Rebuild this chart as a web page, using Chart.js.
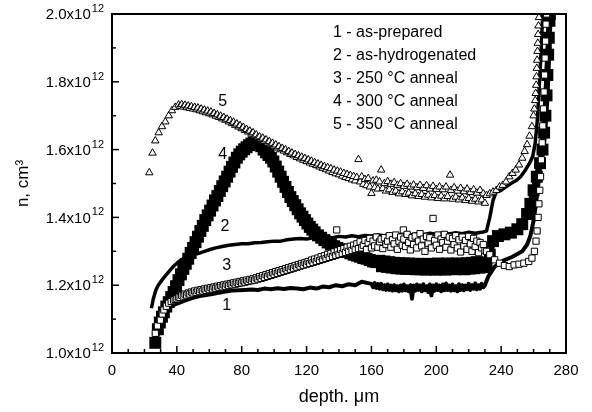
<!DOCTYPE html>
<html>
<head>
<meta charset="utf-8">
<script src="https://cdn.jsdelivr.net/npm/chart.js@4.4.0/dist/chart.umd.min.js"></script>
<style>
  html, body { margin: 0; padding: 0; background: #fff; }
  #wrap { width: 592px; height: 412px; position: relative; }
</style>
</head>
<body>
<div id="wrap"><canvas id="chart"></canvas></div>
<script>
// depth (um) vs n, n in units of 1e12 cm^-3
const asPrepared = [
  [27,1.06],[28.5,1.09],[30,1.105],[32,1.118],[34,1.128],[36,1.136],[38,1.142],[41,1.147],[44,1.153],
  [47,1.158],[50,1.163],[54,1.168],[58,1.171],[62,1.174],[66,1.178],[70,1.181],[74,1.184],[78,1.185],
  [82,1.186],[86,1.187],[90,1.186],[94,1.19],[98,1.188],[102,1.191],[106,1.189],[110,1.192],[114,1.19],
  [118,1.188],[122,1.193],[126,1.19],[130,1.196],[134,1.194],[138,1.2],[142,1.197],[146,1.203],[150,1.2],
  [154,1.21],[158,1.206],
  [160,1.204],[161,1.194],[162,1.206],[163,1.192],[164,1.203],[165,1.19],[166,1.204],[167,1.188],[168,1.2],
  [169,1.186],[170,1.202],[171,1.186],[172,1.199],[173,1.184],[174,1.2],[175,1.185],[176,1.197],[177,1.182],
  [178,1.199],[179,1.184],[180,1.202],[181,1.185],[182,1.197],[183,1.182],[184,1.2],[185,1.16],[186,1.199],
  [187,1.184],[188,1.202],[189,1.186],[190,1.199],[191,1.182],[192,1.203],[193,1.185],[194,1.197],[195,1.18],
  [196,1.202],[197,1.17],[198,1.199],[199,1.184],[200,1.203],[201,1.186],[202,1.199],[203,1.182],[204,1.202],
  [205,1.185],[206,1.205],[207,1.186],[208,1.199],[209,1.184],[210,1.202],[211,1.185],[212,1.197],[213,1.182],
  [214,1.203],[215,1.186],[216,1.2],[217,1.185],[218,1.199],[219,1.188],[220,1.204],[221,1.186],[222,1.2],
  [223,1.19],[224,1.205],[225,1.188],[226,1.2],[227,1.19],[228,1.204],[229,1.194],[230,1.2],
  [232,1.225],[236,1.255],[241,1.272],[247,1.284],[253,1.3],[256,1.32],[258,1.345],[260,1.39],[261.5,1.44],
  [263,1.5],[264.5,1.57],[266,1.66],[267.3,1.76],[268.3,1.86],[269.2,1.95],[269.6,2.0]
];
const asHydrogenated = [
  [24.3,1.132],[25.5,1.16],[27,1.185],[28.5,1.2],[30.8,1.215],[33,1.228],[35.5,1.242],[38,1.256],[41,1.269],
  [44,1.278],[47,1.286],[50,1.29],[53.5,1.294],[57,1.3],[61,1.306],[64,1.31],[68,1.314],[72,1.318],[76,1.32],
  [80,1.322],[84,1.322],[88,1.325],[92,1.326],[96,1.328],[100,1.33],[104,1.33],[108,1.334],[112,1.336],
  [116,1.338],[120,1.336],[124,1.34],[128,1.338],[132,1.342],[136,1.34],[140,1.344],[144,1.342],[148,1.346],
  [152,1.343],[156,1.347],[160,1.345],[164,1.348],[168,1.346],[172,1.35],[176,1.347],[180,1.351],[184,1.348],
  [188,1.352],[192,1.349],[196,1.353],[200,1.35],[204,1.354],[208,1.351],[212,1.355],[216,1.352],[220,1.356],
  [224,1.353],[228,1.356],[231,1.36],[233,1.4],[235,1.45],[237,1.475],[240,1.48],[243,1.49],[246,1.5],
  [249,1.508],[252,1.52],[255,1.54],[257.5,1.56],[259.5,1.58],[261,1.62],[262.2,1.68],[263.2,1.76],
  [264.2,1.85],[265,1.93],[265.6,2.0]
];
const anneal250 = [
  [26.7,1.058],[28,1.08],[29.8,1.097],[31,1.115],[32,1.127],[33.5,1.138],[35,1.147],[36.5,1.152],[38,1.156],
  [39,1.158],[40,1.16],[41,1.165],[42,1.164],[43,1.17],[44,1.168],[45,1.174],[46,1.171],[47,1.177],[48,1.174],
  [49,1.18],[50,1.177],[51,1.183],[52,1.179],[53,1.185],[54,1.181],[55,1.187],[56,1.183],[57,1.189],[58,1.185],
  [59,1.191],[60,1.187],[61,1.193],[62,1.189],[63,1.195],[64,1.191],[65,1.197],[66,1.193],[67,1.199],[68,1.195],
  [69,1.201],[70,1.197],[71,1.203],[72,1.199],[73,1.205],[74,1.201],[75,1.207],[76,1.203],[77,1.209],[78,1.205],
  [79,1.211],[80,1.207],[81,1.213],[82,1.209],[83,1.215],[84,1.211],[85,1.217],[86,1.213],[87,1.219],[88,1.215],
  [89,1.222],[90,1.218],[91,1.225],[92,1.22],[93,1.228],[94,1.223],[95,1.231],[96,1.226],[97,1.234],[98,1.229],
  [99,1.237],[100,1.232],[101,1.24],[102,1.235],[103,1.243],[104,1.238],[105,1.246],[106,1.241],[107,1.249],
  [108,1.244],[109,1.252],[110,1.247],[111,1.255],[112,1.25],[113,1.258],[114,1.253],[115,1.261],[116,1.256],
  [117,1.264],[118,1.259],[119,1.267],[120,1.262],[121,1.27],[122,1.264],[123,1.274],[124,1.267],[125,1.277],
  [126,1.27],[127,1.28],[128,1.273],[129,1.284],[130,1.276],[131,1.287],[132,1.279],[133,1.291],[134,1.282],
  [135,1.294],[136,1.285],[137,1.298],[138,1.288],[138.6,1.363],[139,1.301],[140,1.291],[141,1.305],[142,1.294],
  [143,1.308],[144,1.297],[145,1.312],[146,1.3],[147,1.315],[148,1.303],[149,1.318],[150,1.306],
  [151,1.322],[152,1.308],[153,1.328],[154,1.31],[155,1.318],[156,1.332],[157,1.305],[158,1.325],[159,1.338],
  [160,1.31],[161,1.33],[162,1.316],[163,1.342],[164,1.312],[165,1.328],[166,1.336],[167,1.308],[168,1.34],
  [169,1.32],[170,1.33],[171,1.346],[172,1.312],[173,1.334],[174,1.322],[175,1.348],[176,1.306],[177,1.33],
  [178,1.342],[179,1.318],[179.7,1.363],[180,1.336],[181,1.314],[182,1.35],[183,1.326],[184,1.304],[185,1.34],
  [186,1.32],[187,1.345],[188,1.31],[189,1.33],[190,1.352],[191,1.316],[192,1.336],[193,1.3],[194,1.344],
  [195,1.324],[196,1.34],[197,1.31],[198,1.397],[199,1.332],[200,1.318],[201,1.348],[202,1.306],[203,1.336],
  [204,1.326],[205,1.35],[206,1.312],[207,1.33],[208,1.342],[209,1.304],[210,1.338],[211,1.32],[212,1.346],
  [213,1.31],[214,1.334],[215,1.298],[216,1.342],[217,1.316],[218,1.332],[219,1.306],[220,1.344],[221,1.322],
  [222,1.3],[223,1.338],[224,1.314],[225,1.33],[226,1.296],[227,1.326],[228,1.31],[229,1.32],[230,1.302],
  [231,1.3],[233,1.29],[236,1.275],[239,1.265],[242,1.258],[245,1.255],[248,1.26],[251,1.262],[254,1.265],
  [257,1.27],[259,1.28],[260.5,1.3],[261.5,1.33],[262.2,1.36],[262.8,1.4],[263.3,1.44],[263.8,1.48],
  [264.3,1.52],[264.8,1.57],[265.3,1.62],[265.7,1.67],[266.1,1.72],[266.5,1.77],[266.8,1.82],[267.1,1.87],
  [267.4,1.92],[267.7,1.97],[268,2.0]
];
const anneal300 = [
  [26.7,1.03],[28.3,1.07],[29.5,1.09],[30.8,1.107],[32,1.12],[33.5,1.137],[35,1.15],[36.5,1.165],[38,1.18],
  [39.5,1.197],[41,1.215],[42.5,1.232],[44,1.248],[45.5,1.263],[47,1.278],[48.5,1.295],[50,1.31],[51.5,1.327],
  [53,1.343],[54.5,1.36],[56,1.375],[57.5,1.392],[59,1.406],[60.5,1.42],[62,1.435],[63.5,1.45],[65,1.463],
  [66.5,1.478],[68,1.492],[69.5,1.506],[71,1.52],[72.5,1.535],[74,1.549],[75.5,1.562],[77,1.576],[78.5,1.586],
  [80,1.594],[81.5,1.601],[83,1.607],[84.5,1.613],[86,1.618],[87.5,1.621],[89,1.621],[90.5,1.618],[92,1.61],
  [93.5,1.6],[95,1.592],[96.5,1.584],[98,1.576],[99.5,1.565],[101,1.55],[102.5,1.535],[104,1.52],[105.5,1.505],
  [107,1.49],[108.5,1.475],[110,1.46],[111.5,1.448],[113,1.436],[114.5,1.424],[116,1.412],[117.5,1.402],
  [119,1.392],[120.5,1.382],[122,1.372],[123.5,1.364],[125,1.356],[127,1.347],[129,1.34],[131,1.333],
  [133,1.326],[135,1.32],[137,1.315],[139,1.31],[141,1.306],[143,1.303],[145,1.298],[147,1.294],[149,1.29],
  [151,1.287],[153,1.284],[155,1.28],[157,1.278],[159,1.274],[161,1.27],[163,1.268],
  [165,1.272],[166.5,1.256],[168,1.27],[169.5,1.254],[171,1.268],[172.5,1.252],[174,1.266],[175.5,1.25],
  [177,1.265],[178.5,1.249],[180,1.264],[181.5,1.248],[183,1.264],[184.5,1.248],[186,1.263],[187.5,1.247],
  [189,1.263],[190.5,1.247],[192,1.262],[193.5,1.246],[195,1.263],[196.5,1.247],[198,1.262],[199.5,1.246],
  [201,1.264],[202.5,1.247],[204,1.262],[205.5,1.246],[207,1.264],[208.5,1.248],[210,1.263],[211.5,1.247],
  [213,1.264],[214.5,1.248],[216,1.263],[217.5,1.247],[219,1.265],[220.5,1.249],[222,1.266],[223.5,1.25],
  [225,1.268],[226.5,1.252],[228,1.267],[229.5,1.253],[231,1.262],
  [233,1.29],[235,1.33],[238,1.345],[242,1.35],[246,1.355],[250,1.365],[253,1.38],[256,1.41],[258,1.44],
  [260,1.48],[262,1.52],[264,1.56],[265.5,1.6],[266.5,1.65],[267.3,1.7],[268,1.76],[268.5,1.82],[269,1.88],
  [269.4,1.93],[269.8,1.98],[270,2.0]
];
const anneal350 = [
  [23,1.532],[25,1.59],[26.7,1.626],[28.8,1.65],[30.8,1.668],[32.9,1.682],[35,1.7],[37,1.715],[39,1.725],
  [41,1.732],[42,1.728],[43,1.733],[44,1.726],[45,1.731],[46,1.724],[47,1.729],[48,1.722],[49,1.727],[50,1.72],
  [51,1.725],[52,1.718],[53,1.723],[54,1.715],[55,1.72],[56,1.712],[57,1.717],[58,1.709],[59,1.714],[60,1.706],
  [61,1.711],[62,1.703],[63,1.707],[64,1.699],[65,1.703],[66,1.695],[67,1.699],[68,1.691],[69,1.695],[70,1.687],
  [71,1.69],[72,1.682],[73,1.686],[74,1.677],[75,1.681],[76,1.672],[77,1.676],[78,1.667],[79,1.671],[80,1.662],
  [81,1.666],[82,1.657],[83,1.66],[84,1.652],[85,1.655],[86,1.646],[87,1.65],[88,1.641],[89,1.644],[90,1.636],
  [91,1.638],[92,1.63],[93,1.634],[94,1.625],[95,1.629],[96,1.62],[97,1.624],[98,1.615],[99,1.619],[100,1.61],
  [101,1.614],[102,1.605],[103,1.609],[104,1.6],[105,1.604],[106,1.596],[107,1.6],[108,1.591],[109,1.595],
  [110,1.586],[111,1.59],[112,1.582],[113,1.586],[114,1.577],[115,1.582],[116,1.573],[117,1.578],[118,1.569],
  [119,1.574],[120,1.565],[121,1.57],[122,1.561],[123,1.566],[124,1.557],[125,1.562],[126,1.553],[127,1.558],
  [128,1.549],[129,1.554],[130,1.545],[131,1.55],[132,1.541],[133,1.547],[134,1.537],[135,1.544],[136,1.533],
  [137,1.54],[138,1.529],[139,1.537],[140,1.526],[141,1.534],[142,1.522],[143,1.53],[144,1.518],[145,1.527],
  [146,1.515],[147,1.524],[148,1.511],[149,1.521],[150,1.508],[151,1.518],[152,1.571],[153,1.505],[154,1.52],
  [155,1.498],[156,1.512],[157,1.494],[158,1.515],[159,1.49],[160,1.471],[161,1.508],[162,1.488],[163,1.51],
  [164,1.484],[165,1.505],[166,1.54],[167,1.486],[168,1.5],[169,1.478],[170,1.506],[171,1.482],[172,1.498],
  [173,1.474],[174,1.503],[175,1.478],[176,1.495],[177,1.47],[178,1.5],[179,1.476],[180,1.492],[181,1.468],
  [182,1.498],[183,1.472],[184,1.49],[185,1.464],[186,1.496],[187,1.47],[188,1.488],[189,1.462],[190,1.495],
  [191,1.468],[192,1.486],[193,1.46],[194,1.494],[195,1.466],[196,1.484],[197,1.458],[198,1.492],[199,1.465],
  [200,1.483],[201,1.456],[202,1.49],[203,1.463],[204,1.482],[205,1.455],[206,1.49],[207,1.462],[208.5,1.525],
  [209,1.48],[210,1.454],[211,1.488],[212,1.46],[213,1.478],[214,1.452],[215,1.486],[216,1.458],[217,1.476],
  [218,1.45],[219,1.484],[220,1.456],[221,1.474],[222,1.448],[223,1.482],[224,1.454],[225,1.472],[226,1.446],
  [227,1.48],[228,1.452],[229,1.47],[230,1.442],[231,1.465],[233,1.47],[235,1.475],[237,1.48],[239,1.49],
  [241,1.495],[243,1.505],[245,1.52],[247,1.53],[249,1.54],[251,1.555],[253,1.575],[254.5,1.595],[256,1.615],
  [257.5,1.64],[259,1.668],[260,1.7],[260.5,1.72],[261,1.745],[261.3,1.766],[261.6,1.79],[261.8,1.815],
  [262,1.84],[262.2,1.864],[262.4,1.89],[262.6,1.914],[262.8,1.94],[263,1.965],[263.3,1.99]
];

const legendLines = ['1 - as-prepared', '2 - as-hydrogenated', '3 - 250 \u00B0C anneal', '4 - 300 \u00B0C anneal', '5 - 350 \u00B0C anneal'];
// curve number labels: text, depth, n
const curveLabels = [['5', 68.3, 1.741], ['4', 68.3, 1.584], ['2', 69.7, 1.372], ['3', 70.7, 1.259], ['1', 70.7, 1.141]];
const xTickValues = [0, 40, 80, 120, 160, 200, 240, 280];
const yTickValues = [1.0, 1.2, 1.4, 1.6, 1.8, 2.0];
const yExponent = '12';

const FONT = '"Liberation Sans", Arial, Helvetica, sans-serif';
const toXY = arr => arr.map(p => ({ x: p[0], y: p[1] }));

const decor = {
  id: 'decor',
  afterDraw(chart) {
    const { ctx, chartArea: a, scales: { x, y } } = chart;
    ctx.save();
    ctx.strokeStyle = '#000';
    ctx.fillStyle = '#000';
    // frame
    ctx.lineWidth = 2;
    ctx.strokeRect(a.left, a.top, a.right - a.left, a.bottom - a.top);
    // inward ticks
    ctx.lineWidth = 1.5;
    for (let v = 0; v <= 280; v += 10) {
      const px = x.getPixelForValue(v);
      const len = v % 40 === 0 ? 7 : 4;
      ctx.beginPath(); ctx.moveTo(px, a.bottom); ctx.lineTo(px, a.bottom - len); ctx.stroke();
    }
    for (let i = 0; i <= 10; i++) {
      const py = y.getPixelForValue(1 + i / 10);
      const len = i % 2 === 0 ? 7 : 4;
      ctx.beginPath(); ctx.moveTo(a.left, py); ctx.lineTo(a.left + len, py); ctx.stroke();
    }
    // y tick labels with exponent
    ctx.textBaseline = 'middle';
    ctx.font = '11px ' + FONT;
    const sw = ctx.measureText(yExponent).width;
    const rightEdge = a.left - 8;
    yTickValues.forEach(v => {
      const py = y.getPixelForValue(v) + 1;
      ctx.font = '15px ' + FONT;
      ctx.textAlign = 'right';
      ctx.fillText(v.toFixed(1) + 'x10', rightEdge - sw - 1, py);
      ctx.font = '11px ' + FONT;
      ctx.textAlign = 'left';
      ctx.fillText(yExponent, rightEdge - sw, py - 6);
    });
    // curve numbers
    ctx.font = '16px ' + FONT;
    ctx.textAlign = 'center';
    curveLabels.forEach(l => ctx.fillText(l[0], x.getPixelForValue(l[1]), y.getPixelForValue(l[2])));
    // legend text
    ctx.textAlign = 'left';
    legendLines.forEach((t, i) => {
      ctx.fillText(t, x.getPixelForValue(136.3), a.top + 19 + i * 23);
    });
    ctx.restore();
  }
};

new Chart(document.getElementById('chart'), {
  type: 'scatter',
  data: {
    datasets: [
      {
        label: '5 - 350 \u00B0C anneal',
        data: toXY(anneal350),
        pointStyle: 'triangle',
        pointRadius: 4.3,
        backgroundColor: '#fff',
        borderColor: '#000',
        borderWidth: 1,
        showLine: false
      },
      {
        label: '3 - 250 \u00B0C anneal',
        data: toXY(anneal250),
        pointStyle: 'rect',
        pointRadius: 4.4,
        backgroundColor: '#fff',
        borderColor: '#000',
        borderWidth: 1,
        showLine: false
      },
      {
        label: '2 - as-hydrogenated',
        data: toXY(asHydrogenated),
        showLine: true,
        pointRadius: 0,
        borderColor: '#000',
        borderWidth: 3.5,
        borderJoinStyle: 'round'
      },
      {
        label: '1 - as-prepared',
        data: toXY(asPrepared),
        showLine: true,
        pointRadius: 0,
        borderColor: '#000',
        borderWidth: 4,
        borderJoinStyle: 'round'
      },
      {
        label: '4 - 300 \u00B0C anneal',
        data: toXY(anneal300),
        showLine: true,
        pointStyle: 'rect',
        pointRadius: 4.2,
        backgroundColor: '#000',
        borderColor: '#000',
        borderWidth: 6,
        borderJoinStyle: 'round'
      }
    ]
  },
  options: {
    responsive: true,
    maintainAspectRatio: false,
    animation: false,
    events: [],
    layout: { padding: { left: 0, right: 26, top: 14, bottom: 0 } },
    plugins: { legend: { display: false }, tooltip: { enabled: false } },
    scales: {
      x: {
        type: 'linear',
        min: 0,
        max: 280,
        afterBuildTicks: s => { s.ticks = xTickValues.map(v => ({ value: v })); },
        grid: { display: false, drawTicks: false },
        border: { display: false },
        ticks: { color: '#000', font: { size: 15, family: FONT }, padding: 9, maxRotation: 0, autoSkip: false },
        title: { display: true, text: 'depth. \u03BCm', color: '#000', font: { size: 18, family: FONT }, padding: { top: 0, bottom: 4 } },
        afterFit: s => { s.height = 59; }
      },
      y: {
        type: 'linear',
        min: 1.0,
        max: 2.0,
        afterBuildTicks: s => { s.ticks = yTickValues.map(v => ({ value: v })); },
        grid: { display: false, drawTicks: false },
        border: { display: false },
        ticks: { display: false },
        title: { display: true, text: 'n, cm\u00B3', color: '#000', font: { size: 17, family: FONT }, padding: { top: 13, bottom: 0 } },
        afterFit: s => { s.width = 112; }
      }
    }
  },
  plugins: [decor]
});
</script>
</body>
</html>
